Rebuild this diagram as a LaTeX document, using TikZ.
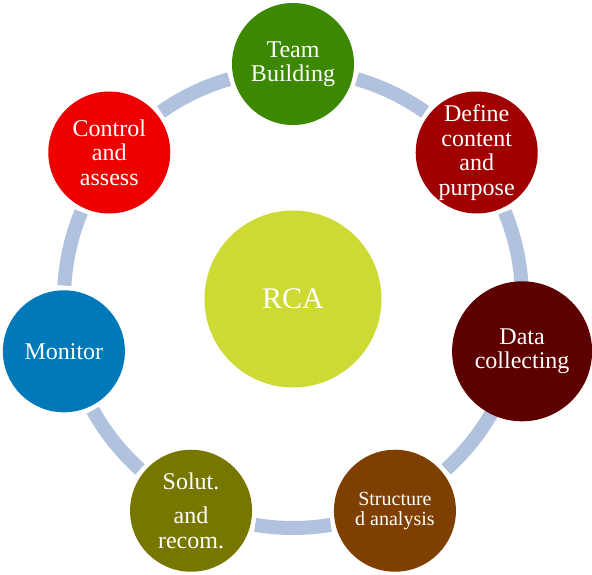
\documentclass[tikz,border=0pt]{standalone}
\usepackage{fontspec}
\setmainfont{Liberation Serif}

\definecolor{ringblue}{RGB}{177,194,222}
\definecolor{rcagreen}{RGB}{204,218,51}
\definecolor{teamgreen}{RGB}{60,136,0}
\definecolor{definered}{RGB}{160,0,0}
\definecolor{datamaroon}{RGB}{92,0,0}
\definecolor{structbrown}{RGB}{126,63,0}
\definecolor{solutolive}{RGB}{119,119,0}
\definecolor{monitorblue}{RGB}{0,121,184}
\definecolor{controlred}{RGB}{238,0,0}

\begin{document}
\begin{tikzpicture}[x=1pt,y=1pt,
        stage/.style={circle,minimum size=122pt,inner sep=0pt,text=white,align=center,
            font=\fontsize{24}{24.5}\selectfont},
        ring/.style={draw=ringblue,line width=14pt}]
        \useasboundingbox (0,0) rectangle (592,-574);
        \coordinate (hub) at (293,-299);

        % Ring segments between the stages
        \foreach \a in {64.29,12.86,-38.57,-90,-141.43,167.14,115.71}
            \draw[ring] ([shift={({\a+9.5}:229)}]hub) arc[start angle=\a+9.5,delta angle=-19,radius=229];

        % Centre
        \node[stage,fill=rcagreen,minimum size=177pt,font=\fontsize{30}{32}\selectfont] (rca) at (hub) {RCA};

        % Stages
        \node[stage,fill=teamgreen] (team) at ([shift={(90:235)}]hub) {Team\\Building};
        \node[stage,fill=definered] (define) at ([shift={(38.57:235)}]hub) {Define\\content\\and\\purpose};
        \node[stage,fill=datamaroon,minimum size=140pt] (data) at ([shift={(-12.86:235)}]hub) {Data\\collecting};
        \node[stage,fill=structbrown,font=\fontsize{20}{20}\selectfont] (struct) at ([shift={(-64.29:235)}]hub) {Structure\\d analysis};
        \node[stage,fill=solutolive] (solut) at ([shift={(-115.71:235)}]hub) {Solut.\\[10pt]and\\recom.};
        \node[stage,fill=monitorblue] (monitor) at ([shift={(-167.14:235)}]hub) {Monitor};
        \node[stage,fill=controlred] (control) at ([shift={(141.43:235)}]hub) {Control\\and\\assess};
    \end{tikzpicture}
\end{document}
